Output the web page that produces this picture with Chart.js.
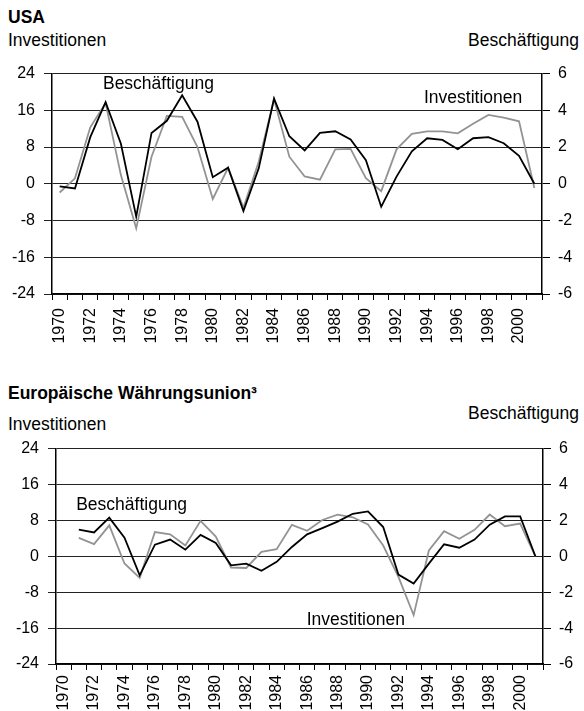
<!DOCTYPE html>
<html>
<head>
<meta charset="utf-8">
<script src="https://cdn.jsdelivr.net/npm/chart.js@4.4.1/dist/chart.umd.min.js"></script>
<style>
  body { margin: 0; width: 584px; height: 711px; background: #fff; position: relative; overflow: hidden;
         font-family: "Liberation Sans", Arial, Helvetica, sans-serif; color: #000; }
  .txt { position: absolute; font-size: 17.5px; line-height: 20px; white-space: nowrap; }
  .bold { font-weight: bold; }
  .box { position: absolute; left: 0; width: 584px; }
</style>
</head>
<body>
<div class="txt bold" style="left:8px; top:7px;">USA</div>
<div class="txt" style="left:8px; top:30px;">Investitionen</div>
<div class="txt" style="right:5px; top:30px;">Beschäftigung</div>
<div class="box" style="top:55px; height:310px;"><canvas id="usaChart"></canvas></div>

<div class="txt bold" style="left:8px; top:383px;">Europäische Währungsunion³</div>
<div class="txt" style="left:8px; top:414px;">Investitionen</div>
<div class="txt" style="right:5px; top:403px;">Beschäftigung</div>
<div class="box" style="top:430px; height:281px;"><canvas id="ewuChart"></canvas></div>

<script>
// Jahre 1970 - 2001
const years = [];
for (let y = 1970; y <= 2001; y++) years.push(String(y));

// USA: Investitionen (linke Achse, %), Beschäftigung (rechte Achse, %)
const usaInvestitionen = [
  -1.9, 1.2, 12.3, 17.6, 1.9, -9.7, 5.9, 14.8, 14.6, 8.0,
  -3.3, 3.5, -5.2, 4.8, 18.4, 5.9, 1.6, 0.9, 7.5, 7.6,
  1.2, -1.6, 7.5, 10.9, 11.4, 11.4, 11.0, 13.1, 15.0, 14.4,
  13.6, -0.9
];
const usaBeschaeftigung = [
  -0.14, -0.25, 2.54, 4.45, 2.18, -1.79, 2.77, 3.43, 4.82, 3.38,
  0.36, 0.88, -1.48, 0.84, 4.64, 2.59, 1.82, 2.77, 2.86, 2.41,
  1.29, -1.25, 0.39, 1.77, 2.48, 2.39, 1.88, 2.48, 2.54, 2.21,
  1.52, 0.0
];

// Europäische Währungsunion (ab 1971)
const ewuInvestitionen = [
  null, 4.1, 2.7, 6.9, -1.6, -4.8, 5.4, 4.9, 2.4, 7.9,
  4.4, -2.5, -2.6, 1.0, 1.6, 7.0, 5.7, 8.1, 9.3, 8.7,
  7.1, 2.4, -4.6, -13.1, 1.3, 5.6, 3.9, 5.9, 9.3, 6.7,
  7.3, 0.0
];
const ewuBeschaeftigung = [
  null, 1.48, 1.33, 2.15, 1.04, -1.06, 0.65, 0.93, 0.37, 1.19,
  0.74, -0.5, -0.41, -0.81, -0.31, 0.52, 1.22, 1.57, 1.93, 2.37,
  2.5, 1.63, -1.02, -1.52, -0.41, 0.67, 0.48, 0.93, 1.76, 2.22,
  2.22, 0.0
];

// Achsen
const leftTicks = [-24, -16, -8, 0, 8, 16, 24];
const rightTicks = [-6, -4, -2, 0, 2, 4, 6];

// Beschriftungen im Diagramm: [Text, Kategorie-Index, Wert linke Achse]
const usaLabels = [['Beschäftigung', 6.45, 21.6], ['Investitionen', 27.0, 18.6]];
const ewuLabels = [['Beschäftigung', 4.47, 11.3], ['Investitionen', 19.2, -14.2]];

const FONT = '"Liberation Sans", Arial, Helvetica, sans-serif';

const seriesLabels = {
    id: 'seriesLabels',
    afterDatasetsDraw(chart, args, opts) {
        const ctx = chart.ctx;
        const x = chart.scales.x, y = chart.scales.yL;
        ctx.save();
        ctx.font = '17.5px ' + FONT;
        ctx.fillStyle = '#000';
        ctx.textAlign = 'center';
        ctx.textBaseline = 'middle';
        opts.items.forEach(([text, idx, val]) => {
            ctx.fillText(text, x.getPixelForValue(idx), y.getPixelForValue(val));
        });
        ctx.restore();
    }
};

function makeChart(canvasId, inv, besch, labels, dims) {
    const ctx = document.getElementById(canvasId).getContext('2d');
    return new Chart(ctx, {
        type: 'line',
        data: {
            labels: years,
            datasets: [{
                label: 'Beschäftigung',
                data: besch,
                yAxisID: 'yR',
                borderColor: '#000',
                borderWidth: 1.8,
                pointRadius: 0,
                tension: 0,
                order: 0
            }, {
                label: 'Investitionen',
                data: inv,
                yAxisID: 'yL',
                borderColor: '#939393',
                borderWidth: 1.8,
                pointRadius: 0,
                tension: 0,
                order: 1
            }]
        },
        options: {
            responsive: true,
            maintainAspectRatio: false,
            animation: false,
            layout: { padding: { top: dims.top, left: 0, right: 0, bottom: 0 } },
            plugins: {
                legend: { display: false },
                tooltip: { enabled: false },
                seriesLabels: { items: labels }
            },
            scales: {
                x: {
                    offset: true,
                    grid: { display: true, drawOnChartArea: false, offset: true, color: '#000', tickLength: 6, lineWidth: 1 },
                    border: { color: '#000', width: 1.5 },
                    ticks: {
                        autoSkip: false, minRotation: 90, maxRotation: 90, padding: dims.xPad,
                        color: '#000', font: { family: FONT, size: 16 },
                        callback: function(v, i) { return i % 2 === 0 ? years[i] : ''; }
                    },
                    afterFit: s => { s.height = dims.xHeight; }
                },
                yL: {
                    position: 'left',
                    min: -24, max: 24,
                    afterBuildTicks: s => { s.ticks = leftTicks.map(v => ({ value: v })); },
                    grid: { color: '#222', lineWidth: 1, tickLength: 8 },
                    border: { color: '#000', width: 1.5 },
                    ticks: { color: '#000', padding: 9, font: { family: FONT, size: 16 } },
                    afterFit: s => { s.width = dims.left; }
                },
                yR: {
                    position: 'right',
                    min: -6, max: 6,
                    afterBuildTicks: s => { s.ticks = rightTicks.map(v => ({ value: v })); },
                    grid: { drawOnChartArea: false, color: '#000', tickLength: 8 },
                    border: { color: '#000', width: 1.5 },
                    ticks: { color: '#000', padding: 8, font: { family: FONT, size: 16 } },
                    afterFit: s => { s.width = dims.right; }
                }
            }
        },
        plugins: [seriesLabels]
    });
}

makeChart('usaChart', usaInvestitionen, usaBeschaeftigung, usaLabels,
    { top: 15, left: 52, right: 42, xHeight: 71, xPad: 8 });
makeChart('ewuChart', ewuInvestitionen, ewuBeschaeftigung, ewuLabels,
    { top: 18, left: 56, right: 41, xHeight: 47, xPad: 5 });
</script>
</body>
</html>
